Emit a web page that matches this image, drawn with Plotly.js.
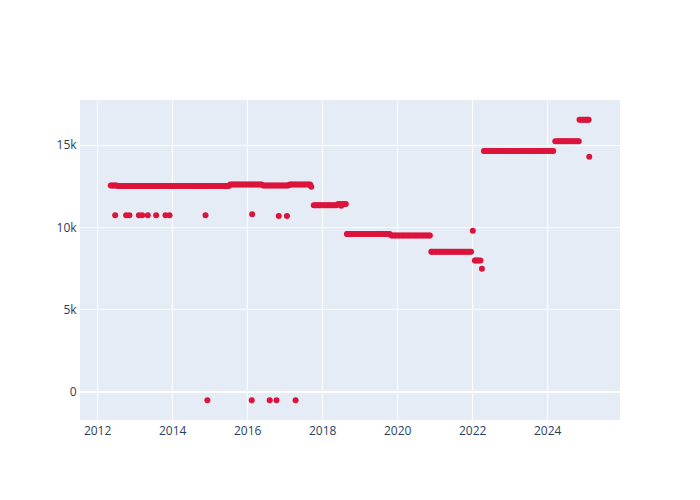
<!DOCTYPE html>
<html>
<head>
<meta charset="utf-8">
<script src="https://cdn.plot.ly/plotly-3.0.1.min.js"></script>
<style>html,body{margin:0;padding:0;background:#fff;}#chart{width:700px;height:500px;}</style>
</head>
<body>
<div id="chart"></div>
<script>
// Segment 1: ~12.5k plateau, 2012-2017
const seg1Dates = [
  "2012-05-08","2012-05-22","2012-06-05","2012-06-19","2012-07-03",
  "2012-07-17","2012-08-01","2012-08-15","2012-09-01","2012-09-15","2012-10-01","2012-10-15","2012-11-01","2012-11-15","2012-12-01","2012-12-15",
  "2013-01-01","2013-01-15","2013-02-01","2013-02-15","2013-03-01","2013-03-15","2013-04-01","2013-04-15","2013-05-01","2013-05-15","2013-06-01","2013-06-15",
  "2013-07-01","2013-07-15","2013-08-01","2013-08-15","2013-09-01","2013-09-15","2013-10-01","2013-10-15","2013-11-01","2013-11-15","2013-12-01","2013-12-15",
  "2014-01-01","2014-01-15","2014-02-01","2014-02-15","2014-03-01","2014-03-15","2014-04-01","2014-04-15","2014-05-01","2014-05-15","2014-06-01","2014-06-15",
  "2014-07-01","2014-07-15","2014-08-01","2014-08-15","2014-09-01","2014-09-15","2014-10-01","2014-10-15","2014-11-01","2014-11-15","2014-12-01","2014-12-15",
  "2015-01-01","2015-01-15","2015-02-01","2015-02-15","2015-03-01","2015-03-15","2015-04-01","2015-04-15","2015-05-01","2015-05-15","2015-06-01","2015-06-15","2015-07-01",
  "2015-07-15","2015-08-01","2015-08-15","2015-09-01","2015-09-15","2015-10-01","2015-10-15","2015-11-01","2015-11-15","2015-12-01","2015-12-15",
  "2016-01-01","2016-01-15","2016-02-01","2016-02-15","2016-03-01","2016-03-15","2016-04-01","2016-04-15","2016-05-01","2016-05-15",
  "2016-06-01","2016-06-15","2016-07-01","2016-07-15","2016-08-01","2016-08-15","2016-09-01","2016-09-15","2016-10-01","2016-10-15","2016-11-01","2016-11-15","2016-12-01","2016-12-15",
  "2017-01-01","2017-01-15","2017-02-01",
  "2017-02-15","2017-03-01","2017-03-15","2017-04-01","2017-04-15","2017-05-01","2017-05-15","2017-06-01","2017-06-15","2017-07-01","2017-07-15","2017-08-01","2017-08-15","2017-09-01",
  "2017-09-12"];
const seg1Values = [
  12560,12560,12560,12560,12560,
  12530,12530,12530,12530,12530,12530,12530,12530,12530,12530,12530,
  12530,12530,12530,12530,12530,12530,12530,12530,12530,12530,12530,12530,
  12530,12530,12530,12530,12530,12530,12530,12530,12530,12530,12530,12530,
  12530,12530,12530,12530,12530,12530,12530,12530,12530,12530,12530,12530,
  12530,12530,12530,12530,12530,12530,12530,12530,12530,12530,12530,12530,
  12530,12530,12530,12530,12530,12530,12530,12530,12530,12530,12530,12530,12530,
  12620,12620,12620,12620,12620,12620,12620,12620,12620,12620,12620,
  12620,12620,12620,12620,12620,12620,12620,12620,12620,12620,
  12550,12550,12550,12550,12550,12550,12550,12550,12550,12550,12550,12550,12550,12550,
  12550,12550,12550,
  12610,12610,12610,12610,12610,12610,12610,12610,12610,12610,12610,12610,12610,12610,
  12480];

// Isolated lower points ~10.7k
const lowDates = ["2012-06-20","2012-10-05","2012-11-06","2013-02-06","2013-03-10","2013-05-04","2013-07-24","2013-10-23","2013-12-02","2014-11-17","2016-02-14","2016-10-30","2017-01-18"];
const lowValues = [10750,10750,10750,10750,10750,10750,10750,10750,10750,10750,10800,10700,10700];

// Negative points
const negDates = ["2014-12-05","2016-02-10","2016-08-03","2016-10-08","2017-04-12"];
const negValues = [-500,-500,-500,-500,-500];

// Segment 2: ~11.4k
const seg2Dates = ["2017-10-06","2017-10-20","2017-11-03","2017-11-17","2017-12-01","2017-12-15",
  "2018-01-01","2018-01-15","2018-02-01","2018-02-15","2018-03-01","2018-03-15","2018-04-01","2018-04-15","2018-05-01","2018-05-15",
  "2018-06-01","2018-06-15","2018-07-01","2018-07-15","2018-08-01","2018-08-14"];
const seg2Values = [11360,11360,11360,11360,11360,11360,
  11360,11360,11360,11360,11360,11360,11360,11360,11360,11360,
  11430,11430,11330,11430,11430,11430];

// Segment 3: ~9.5k
const seg3Dates = ["2018-08-25","2018-09-01","2018-09-15","2018-10-01","2018-10-15","2018-11-01","2018-11-15","2018-12-01","2018-12-15",
  "2019-01-01","2019-01-15","2019-02-01","2019-02-15","2019-03-01","2019-03-15","2019-04-01","2019-04-15","2019-05-01","2019-05-15",
  "2019-06-01","2019-06-15","2019-07-01","2019-07-15","2019-08-01","2019-08-15","2019-09-01","2019-09-15","2019-10-01","2019-10-15",
  "2019-11-01","2019-11-15","2019-12-01","2019-12-15",
  "2020-01-01","2020-01-15","2020-02-01","2020-02-15","2020-03-01","2020-03-15","2020-04-01","2020-04-15","2020-05-01","2020-05-15",
  "2020-06-01","2020-06-15","2020-07-01","2020-07-15","2020-08-01","2020-08-15","2020-09-01","2020-09-15","2020-10-01","2020-10-15",
  "2020-11-01","2020-11-10"];
const seg3Values = [9600,9600,9600,9600,9600,9600,9600,9600,9600,
  9600,9600,9600,9600,9600,9600,9600,9600,9600,9600,
  9600,9600,9600,9600,9600,9600,9600,9600,9600,9600,
  9520,9520,9520,9520,
  9520,9520,9520,9520,9520,9520,9520,9520,9520,9520,
  9520,9520,9520,9520,9520,9520,9520,9520,9520,9520,
  9520,9520];

// Segment 4: ~8.5k
const seg4Dates = ["2020-11-24","2020-12-01","2020-12-15",
  "2021-01-01","2021-01-15","2021-02-01","2021-02-15","2021-03-01","2021-03-15","2021-04-01","2021-04-15","2021-05-01","2021-05-15","2021-06-01","2021-06-15",
  "2021-07-01","2021-07-15","2021-08-01","2021-08-15","2021-09-01","2021-09-15","2021-10-01","2021-10-15","2021-11-01","2021-11-15",
  "2021-12-01","2021-12-16"];
const seg4Values = [8520,8520,8520,
  8520,8520,8520,8520,8520,8520,8520,8520,8520,8520,8520,8520,
  8520,8520,8520,8520,8520,8520,8520,8520,8520,8520,
  8520,8520];

// Segment 5: ~8k
const seg5Dates = ["2022-01-22","2022-02-01","2022-02-15","2022-03-01","2022-03-18"];
const seg5Values = [8000,8000,8000,8000,8000];

// Segment 6: ~14.65k
const seg6Dates = ["2022-04-20","2022-05-01","2022-05-15","2022-06-01","2022-06-15","2022-07-01","2022-07-15","2022-08-01","2022-08-15",
  "2022-09-01","2022-09-15","2022-10-01","2022-10-15","2022-11-01","2022-11-15","2022-12-01","2022-12-15",
  "2023-01-01","2023-01-15","2023-02-01","2023-02-15","2023-03-01","2023-03-15","2023-04-01","2023-04-15","2023-05-01","2023-05-15","2023-06-01","2023-06-15",
  "2023-07-01","2023-07-15","2023-08-01","2023-08-15","2023-09-01","2023-09-15","2023-10-01","2023-10-15","2023-11-01","2023-11-15","2023-12-01","2023-12-15",
  "2024-01-01","2024-01-15","2024-02-01","2024-02-15","2024-02-24"];
const seg6Values = [14650,14650,14650,14650,14650,14650,14650,14650,14650,
  14650,14650,14650,14650,14650,14650,14650,14650,
  14650,14650,14650,14650,14650,14650,14650,14650,14650,14650,14650,14650,
  14650,14650,14650,14650,14650,14650,14650,14650,14650,14650,14650,14650,
  14650,14650,14650,14650,14650];

// Segment 7: ~15.25k
const seg7Dates = ["2024-03-15","2024-04-01","2024-04-15","2024-05-01","2024-05-15","2024-06-01","2024-06-15","2024-07-01","2024-07-15",
  "2024-08-01","2024-08-15","2024-09-01","2024-09-15","2024-10-01","2024-10-15","2024-10-30"];
const seg7Values = [15250,15250,15250,15250,15250,15250,15250,15250,15250,
  15250,15250,15250,15250,15250,15250,15250];

// Segment 8: ~16.55k
const seg8Dates = ["2024-11-06","2024-11-20","2024-12-04","2024-12-18","2025-01-01","2025-01-15","2025-01-29","2025-02-03"];
const seg8Values = [16550,16550,16550,16550,16550,16550,16550,16550];

// Single outliers
const singleDates = ["2022-01-02","2022-04-01","2025-02-09"];
const singleValues = [9800,7500,14300];

const xs = [].concat(seg1Dates, lowDates, negDates, seg2Dates, seg3Dates, seg4Dates, seg5Dates, seg6Dates, seg7Dates, seg8Dates, singleDates);
const ys = [].concat(seg1Values, lowValues, negValues, seg2Values, seg3Values, seg4Values, seg5Values, seg6Values, seg7Values, seg8Values, singleValues);

const trace = {
  x: xs, y: ys, type: 'scatter', mode: 'markers',
  marker: {color: 'crimson', size: 6}
};

const layout = {
  width: 700, height: 500,
  margin: {l: 80, r: 80, t: 100, b: 80},
  paper_bgcolor: '#ffffff',
  plot_bgcolor: '#E5ECF6',
  font: {family: '"Open Sans", verdana, arial, sans-serif', size: 12, color: '#2a3f5f'},
  showlegend: false,
  xaxis: {type: 'date', gridcolor: '#ffffff', gridwidth: 1, zeroline: false, linecolor: '#ffffff', ticks: '', automargin: true},
  yaxis: {gridcolor: '#ffffff', gridwidth: 1, zeroline: true, zerolinecolor: '#ffffff', zerolinewidth: 2, linecolor: '#ffffff', ticks: '', automargin: true}
};

Plotly.newPlot('chart', [trace], layout, {displayModeBar: false});
</script>
</body>
</html>
